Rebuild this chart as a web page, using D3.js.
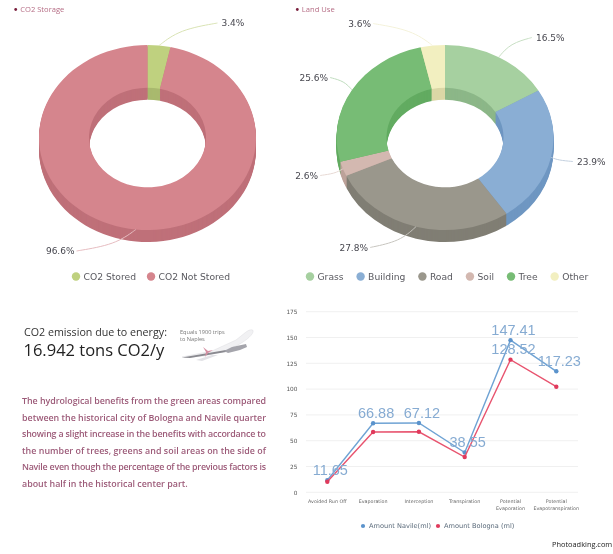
<!DOCTYPE html>
<html><head><meta charset="utf-8">
<script src="https://cdn.jsdelivr.net/npm/d3@7"></script>
<style>
html,body{margin:0;padding:0;background:#fff}
svg{display:block;font-family:"DejaVu Sans",sans-serif;filter:blur(.35px)}
</style></head><body>
<svg id="c" width="613" height="554" viewBox="0 0 613 554"></svg>
<script>
const storageLabels = ["CO2 Stored","CO2 Not Stored"];
const storageValues = [3.4,96.6];
const storageColors = ["#bfd17f","#d5858d"];
const storageDark = ["#a9b96e","#bf7079"];
const landLabels = ["Grass","Building","Road","Soil","Tree","Other"];
const landValues = [16.5,23.9,27.8,2.6,25.6,3.6];
const landColors = ["#a6d0a0","#8aaed4","#9a978c","#d3b8b0","#77bc75","#f2efc0"];
const landDark = ["#8cb788","#6f97c2","#807e74","#bda29a","#62ab61","#dbd7a6"];
const lineCategories = [["Avoided Run Off"],["Evaporation"],["Interception"],["Transpiration"],["Potential","Evaporation"],["Potential","Evapotranspiration"]];
const navile = [11.65,66.88,67.12,38.55,147.41,117.23];
const bologna = [10.2,58.4,58.6,34.2,128.52,102.3];
const lineTicks = [0,25,50,75,100,125,150,175];
const textLines = ["The hydrological benefits from the green areas compared",
"between the historical city of Bologna and Navile quarter",
"showing a slight increase in the benefits with accordance to",
"the number of trees, greens and soil areas on the side of",
"Navile even though the percentage of the previous factors is",
"about half in the historical center part."];

const svg = d3.select("#c");

function donut(cfg){
  const g = svg.append("g");
  const arc = d3.arc().innerRadius(58.5).outerRadius(108.5);
  const squash = 92.5/108.5;
  const pie = d3.pie().sort(null).value(d=>d)(cfg.values);
  for(let dy=12;dy>=1;dy--){
    g.append("g").attr("transform",`translate(${cfg.cx},${137.5+dy}) scale(1,${squash})`)
     .selectAll("path").data(pie).join("path").attr("d",arc)
     .attr("fill",(d,i)=>cfg.dark[i]);
  }
  g.append("g").attr("transform",`translate(${cfg.cx},137.5) scale(1,${squash})`)
   .selectAll("path").data(pie).join("path").attr("d",arc)
   .attr("fill",(d,i)=>cfg.colors[i]);
  pie.forEach((d,i)=>{
    const a=(d.startAngle+d.endAngle)/2;
    const sx=cfg.cx+108.5*Math.sin(a), sy=137.5-92.5*Math.cos(a);
    const [lx,ly,anchor]=cfg.anchors[i];
    const ex=cfg.cx+lx, ey=137.5+ly;
    const line=d3.line().curve(d3.curveBasis);
    const mx=sx+(ex-sx)*0.35, my=sy+(ey-sy)*0.7;
    g.append("path").attr("d",line([[sx,sy],[sx,sy],[mx,my],[ex,ey],[ex,ey]]))
     .attr("fill","none").attr("stroke",cfg.leader[i]).attr("stroke-width",1);
    g.append("text").attr("x",ex+(anchor==="start"?4:-2)).attr("y",ey+3.4)
     .attr("text-anchor",anchor).attr("font-size",9).attr("fill","#47474f")
     .text(d3.format(".1f")(d.data)+"%");
  });
  g.append("circle").attr("cx",cfg.tx).attr("cy",9.5).attr("r",1.4).attr("fill","#7a1f3d");
  g.append("text").attr("x",cfg.tx+4.5).attr("y",12.4).attr("font-family","'Open Sans',sans-serif")
   .attr("font-size",7.6).attr("fill","#b56c84").text(cfg.title);
  let x=cfg.legendX;
  cfg.labels.forEach((l,i)=>{
    g.append("circle").attr("cx",x).attr("cy",276.5).attr("r",4.2).attr("fill",cfg.colors[i]);
    const t=g.append("text").attr("x",x+7.5).attr("y",280).attr("font-size",9.2).attr("fill","#5a5a60").text(l);
    x+=t.node().getComputedTextLength()+cfg.legendGap;
  });
}

donut({cx:147.5,values:storageValues,colors:storageColors,dark:storageDark,labels:storageLabels,
  title:"CO2 Storage",tx:15.7,legendX:76,legendGap:22.5,
  anchors:[[70,-114.5,"start"],[-71,113.5,"end"]],
  leader:["#d9e3b4","#e6bcc0"]});
donut({cx:445,values:landValues,colors:landColors,dark:landDark,labels:landLabels,
  title:"Land Use",tx:297.3,legendX:310,legendGap:24.5,
  anchors:[[87,-100,"start"],[128,24,"start"],[-75,110,"end"],[-125,38,"end"],[-115,-60,"end"],[-72,-114,"end"]],
  leader:["#c8dfc4","#c3d0df","#c7c5bf","#e7d9d4","#bfdcbe","#f4f2da"]});

svg.append("text").attr("x",24).attr("y",335.5).attr("font-family","'Open Sans',sans-serif")
  .attr("font-size",10.7).attr("fill","#333").text("CO2 emission due to energy:");
svg.append("text").attr("x",23.5).attr("y",356).attr("font-family","'Open Sans',sans-serif")
  .attr("font-size",16.5).attr("fill","#222").text("16.942 tons CO2/y");
svg.append("text").attr("x",180).attr("y",333.5).attr("font-family","'Open Sans',sans-serif")
  .attr("font-size",5.6).attr("fill","#777").text("Equals 1900 trips");
svg.append("text").attr("x",180).attr("y",341).attr("font-family","'Open Sans',sans-serif")
  .attr("font-size",5.6).attr("fill","#777").text("to Naples");

const plane = svg.append("g");
plane.append("path").attr("d","M182 357 L212 351 L236 340 L246 332 C250 329 254 329 253 332 C252 336 244 342 236 346 L222 352 L204 356 L190 357 Z")
  .attr("fill","#f1f1f3").attr("stroke","#dcdce0").attr("stroke-width",.5);
plane.append("path").attr("d","M182 357.5 L226 350 L226 352 L190 358 Z").attr("fill","#8a8a90");
plane.append("path").attr("d","M203 347 L208 351 L213 350 L208 353 L205 357 L206 352 Z").attr("fill","#d58fa2");
plane.append("path").attr("d","M224 351 L232 347 L246 344 L247 347 L240 350 L228 353 Z").attr("fill","#a5a5ac");
plane.append("path").attr("d","M196 360 L212 355 L218 355 L202 361 Z").attr("fill","#e2e2e6");

svg.append("g").selectAll("text").data(textLines).join("text")
  .attr("x",22).attr("y",(d,i)=>404+i*16.5)
  .attr("font-family","'Open Sans',sans-serif").attr("font-size",8.9).attr("font-weight",600).attr("fill","#9c5a78")
  .attr("textLength",(d,i)=>i<5?244:null).attr("lengthAdjust","spacing")
  .text(d=>d);

const x = d3.scalePoint().domain(d3.range(lineCategories.length)).range([327.3,556.3]);
const y = d3.scaleLinear().domain([0,175]).range([492.3,311.7]);
const chart = svg.append("g");
chart.append("g").selectAll("line").data(lineTicks).join("line")
  .attr("x1",306).attr("x2",578).attr("y1",d=>y(d)).attr("y2",d=>y(d)).attr("stroke","#f0f0f0");
const yAxis = d3.axisLeft(y).tickValues(lineTicks).tickSize(0).tickPadding(0);
chart.append("g").attr("transform","translate(297.5,0)").call(yAxis)
  .call(s=>s.select(".domain").remove())
  .call(s=>s.selectAll("text").attr("font-size",5.8).attr("fill","#555").attr("font-family","'DejaVu Sans',sans-serif"));
const xLabels = chart.append("g").selectAll("text").data(lineCategories).join("text")
  .attr("text-anchor","middle").attr("font-size",4.8).attr("fill","#666");
xLabels.each(function(d,i){
  d3.select(this).selectAll("tspan").data(d).join("tspan")
    .attr("x",x(i)).attr("y",(t,k)=>503+k*7.4).text(t=>t);
});
const line = d3.line().x((d,i)=>x(i)).y(d=>y(d));
const seriesDefs = [{v:navile,c:"#6fa3d4",m:"#5b93cc"},{v:bologna,c:"#e8546f",m:"#e03a5c"}];
seriesDefs.forEach(s=>{
  chart.append("path").attr("d",line(s.v)).attr("fill","none").attr("stroke",s.c).attr("stroke-width",1.4);
  chart.append("g").selectAll("circle").data(s.v).join("circle")
    .attr("cx",(d,i)=>x(i)).attr("cy",d=>y(d)).attr("r",2.2).attr("fill",s.m);
});
const labelStyle = sel => sel.attr("text-anchor","middle").attr("font-family","'Liberation Sans',sans-serif")
  .attr("font-size",14.5).attr("fill","#86abd2");
chart.append("g").selectAll("text").data(navile).join("text")
  .attr("x",(d,i)=>x(i)+3).attr("y",d=>y(d)-5.5).call(labelStyle)
  .text(d=>d3.format(".2f")(d));
chart.append("text").attr("x",x(4)+3).attr("y",y(bologna[4])-5.5).call(labelStyle).text(d3.format(".2f")(bologna[4]));
const leg=[["Amount Navile(ml)",363,"#5b93cc"],["Amount Bologna (ml)",438,"#e03a5c"]];
leg.forEach(([t,lx,c])=>{
  chart.append("circle").attr("cx",lx).attr("cy",526).attr("r",2.1).attr("fill",c);
  chart.append("text").attr("x",lx+6).attr("y",528.4).attr("font-size",6.6).attr("fill","#5a6a7a").text(t);
});
svg.append("text").attr("x",552).attr("y",547).attr("font-family","'Open Sans',sans-serif")
  .attr("font-size",7.4).attr("fill","#222").text("Photoadking.com");
</script>
</body></html>
